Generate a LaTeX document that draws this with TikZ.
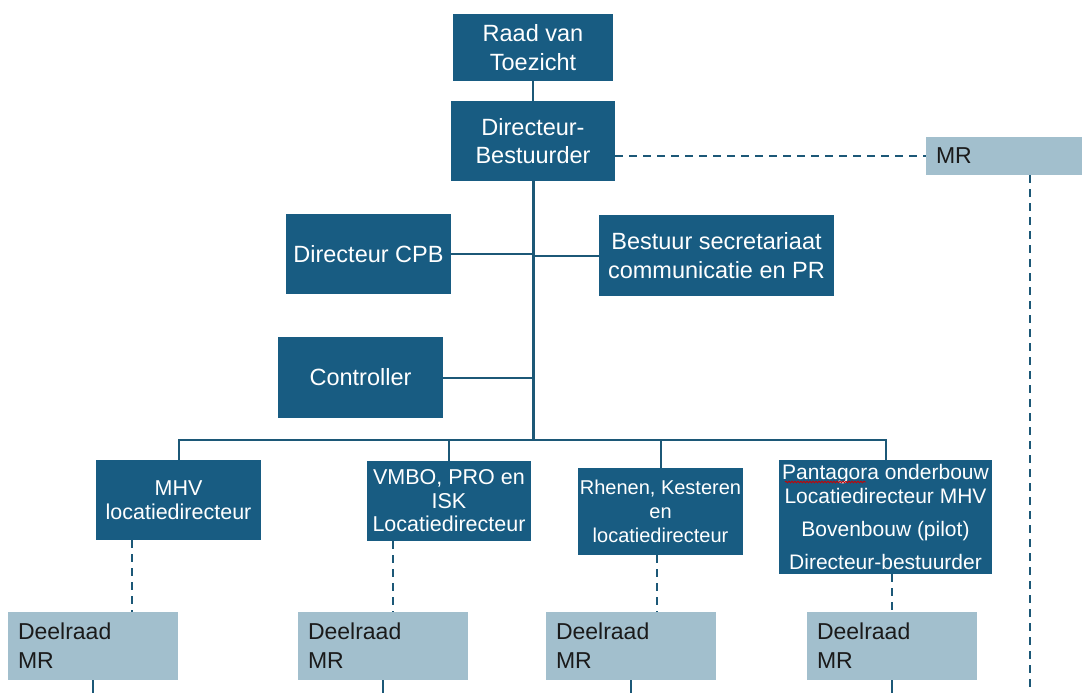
\documentclass[tikz,border=0pt]{standalone}
\usepackage{fontspec}
\setmainfont{Liberation Sans}
\usetikzlibrary{decorations.pathmorphing}
\definecolor{dblue}{HTML}{185C82}
\definecolor{lblue}{HTML}{A2BFCD}
\definecolor{lnc}{HTML}{1C5877}
\definecolor{dtext}{HTML}{1A1A1A}
\begin{document}
\begin{tikzpicture}[x=1pt,y=-1pt,
 dark/.style={fill=dblue, text=white, inner sep=0pt, align=center, font=\fontsize{23.5}{28.5}\selectfont},
 darks/.style={dark, font=\fontsize{21.5}{23.5}\selectfont},
 light/.style={fill=lblue, text=dtext, inner sep=0pt, align=left, font=\fontsize{23}{29}\selectfont},
 conn/.style={draw=lnc, line width=2pt},
 trunk/.style={draw=lnc, line width=3pt},
 dconn/.style={draw=lnc, line width=2pt, dash pattern=on 8pt off 6pt}]
\useasboundingbox (0,0) rectangle (1082,693);
% top
\node[dark, minimum width=160pt, minimum height=67pt] (rvt) at (533,47.5) {Raad van\\Toezicht};
\node[dark, minimum width=164pt, minimum height=80pt] (db) at (533,141) {Directeur-\\Bestuurder};
\node[light, minimum width=160pt, minimum height=38pt, text width=140pt] (mr) at (1006,156) {MR};
% staff
\node[dark, minimum width=165pt, minimum height=80pt] (cpb) at (368.5,254) {Directeur CPB};
\node[dark, minimum width=235pt, minimum height=81pt] (bs) at (716.5,255.5) {Bestuur secretariaat\\communicatie en PR};
\node[dark, minimum width=165pt, minimum height=81pt] (ctrl) at (360.5,377.5) {Controller};
% locations
\node[darks, minimum width=165pt, minimum height=80pt] (mhv) at (178.5,500) {MHV\\locatiedirecteur};
\node[darks, minimum width=164pt, minimum height=80pt] (vmbo) at (449,501) {VMBO, PRO en\\ISK\\Locatiedirecteur};
\node[darks, minimum width=165pt, minimum height=87pt, font=\fontsize{20}{24}\selectfont] (rh) at (660.5,511.5) {Rhenen, Kesteren\\en\\locatiedirecteur};
\node[darks, minimum width=213pt, minimum height=114pt, font=\fontsize{21}{24}\selectfont] (pg) at (885.5,517) {Pantagora onderbouw\\Locatiedirecteur MHV\\[9pt]Bovenbouw (pilot)\\[9pt]Directeur-bestuurder};
% deelraad
\node[light, minimum width=170pt, minimum height=68pt, text width=150pt] (d1) at (93,646) {Deelraad\\MR};
\node[light, minimum width=170pt, minimum height=68pt, text width=150pt] (d2) at (383,646) {Deelraad\\MR};
\node[light, minimum width=170pt, minimum height=68pt, text width=150pt] (d3) at (631,646) {Deelraad\\MR};
\node[light, minimum width=170pt, minimum height=68pt, text width=150pt] (d4) at (892,646) {Deelraad\\MR};
% coordinates
\coordinate (bus) at (533,440);
\coordinate (bot) at (0,693);
\coordinate (x1) at (132,0);
\coordinate (x2) at (393,0);
\coordinate (x3) at (657,0);
\coordinate (x4) at (892,0);
\coordinate (xm) at (1030,0);
% solid connectors
\draw[conn] (rvt.south) -- (db.north);
\draw[trunk] (db.south) -- (bus);
\draw[conn] (cpb.east) -- (cpb.east -| bus);
\draw[conn] (bs.west) -- (bs.west -| bus);
\draw[conn] (ctrl.east) -- (ctrl.east -| bus);
\draw[conn] (mhv.north) -- (mhv.north |- bus) -- (pg.north |- bus) -- (pg.north);
\draw[conn] (vmbo.north) -- (vmbo.north |- bus);
\draw[conn] (rh.north) -- (rh.north |- bus);
% dashed connectors
\draw[dconn] (db.east |- mr.west) -- (mr.west);
\draw[dconn] (mr.south -| xm) -- (bot -| xm);
\draw[dconn] (mhv.south -| x1) -- (d1.north -| x1);
\draw[dconn] (vmbo.south -| x2) -- (d2.north -| x2);
\draw[dconn] (rh.south -| x3) -- (d3.north -| x3);
\draw[dconn] (pg.south -| x4) -- (d4.north -| x4);
% lines below deelraad
\draw[conn] (d1.south) -- (d1.south |- bot);
\draw[conn] (d2.south) -- (d2.south |- bot);
\draw[conn] (d3.south) -- (d3.south |- bot);
\draw[conn] (d4.south) -- (d4.south |- bot);
% spell-check underline
\draw[red!80!black, line width=0.8pt, decorate, decoration={snake, amplitude=0.8pt, segment length=3pt}] (785,482) -- (866,482);
\end{tikzpicture}
\end{document}
